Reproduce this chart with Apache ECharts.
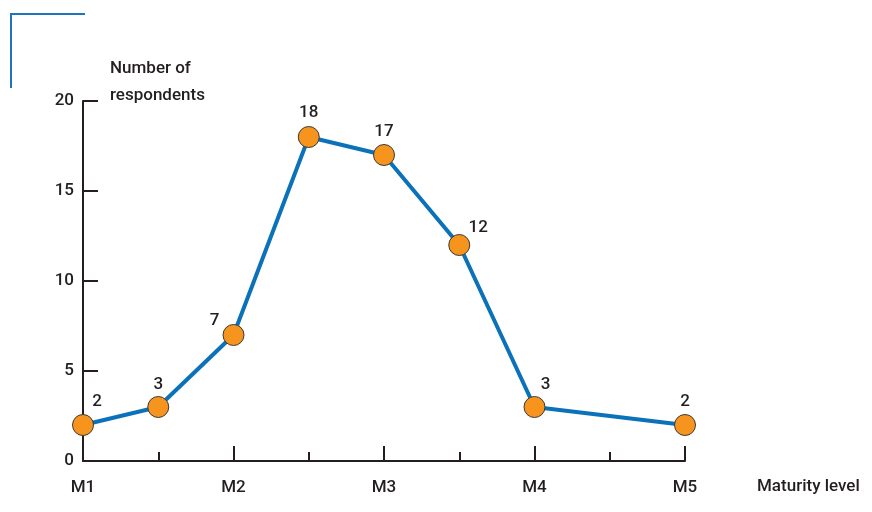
<!DOCTYPE html>
<html>
<head>
<meta charset="utf-8">
<script src="https://cdn.jsdelivr.net/npm/echarts@6/dist/echarts.min.js"></script>
<style>
  html, body { margin: 0; padding: 0; background: #ffffff; }
  #chart { width: 872px; height: 512px; }
</style>
</head>
<body>
<div id="chart"></div>
<script>
// Maturity levels on the x axis (1 = M1 ... 5 = M5); half steps sit between levels
const levelNames = ['M1', 'M2', 'M3', 'M4', 'M5'];
const levelPositions = [1, 1.5, 2, 2.5, 3, 3.5, 4, 5];
const respondents = [2, 3, 7, 18, 17, 12, 3, 2];
const yTicks = [0, 5, 10, 15, 20];

// Where each value label sits relative to its marker centre
const labelOffsets = [[14, -23], [0, -22], [-19, -14], [0, -24], [0, -23], [19, -17], [11, -22], [0, -23]];

const FONT = "Roboto, 'Liberation Sans', sans-serif";
const WEIGHT = 500;
const INK = '#231f20';
const BLUE = '#0b72b9';
const ORANGE = '#f7941d';

const seriesData = levelPositions.map((x, i) => ({
  value: [x, respondents[i]],
  label: { offset: labelOffsets[i] }
}));

const chart = echarts.init(document.getElementById('chart'), null, { renderer: 'canvas' });

chart.setOption({
  animation: false,
  backgroundColor: '#ffffff',
  textStyle: { fontFamily: FONT, fontWeight: WEIGHT },
  grid: { left: 83, right: 187, top: 101, bottom: 51, containLabel: false },
  graphic: [
    {
      type: 'polyline',
      shape: { points: [[85, 14], [11, 14], [11, 88]] },
      style: { stroke: '#1f74c2', lineWidth: 2, fill: null },
      silent: true
    }
  ],
  xAxis: {
    type: 'value',
    min: 1,
    max: 5,
    interval: 1,
    name: 'Maturity level',
    nameLocation: 'end',
    nameGap: 72,
    nameTextStyle: {
      fontFamily: FONT, fontWeight: WEIGHT, fontSize: 17, color: INK,
      align: 'left', verticalAlign: 'top', padding: [17, 0, 0, 0]
    },
    axisLine: { show: true, lineStyle: { color: INK, width: 2 } },
    axisTick: { show: true, inside: true, length: 15, lineStyle: { color: INK, width: 2 } },
    minorTick: { show: true, splitNumber: 2, length: 9, lineStyle: { color: INK, width: 2 } },
    splitLine: { show: false },
    minorSplitLine: { show: false },
    axisLabel: {
      margin: 18,
      fontFamily: FONT, fontWeight: WEIGHT, fontSize: 17, color: INK,
      formatter: v => levelNames[Math.round(v) - 1] || ''
    }
  },
  yAxis: {
    type: 'value',
    min: yTicks[0],
    max: yTicks[yTicks.length - 1],
    interval: 5,
    name: 'Number of\nrespondents',
    nameLocation: 'end',
    nameGap: 19,
    nameTextStyle: {
      fontFamily: FONT, fontWeight: WEIGHT, fontSize: 17, color: INK, lineHeight: 27,
      align: 'left', verticalAlign: 'middle', padding: [0, 0, 0, 27]
    },
    axisLine: { show: true, lineStyle: { color: INK, width: 2 } },
    axisTick: { show: true, inside: true, length: 15, lineStyle: { color: INK, width: 2 } },
    splitLine: { show: false },
    axisLabel: { margin: 9, fontFamily: FONT, fontWeight: WEIGHT, fontSize: 17, color: INK }
  },
  series: [
    {
      type: 'line',
      data: seriesData,
      symbol: 'circle',
      symbolSize: 21,
      lineStyle: { color: BLUE, width: 4 },
      itemStyle: { color: ORANGE, borderColor: '#3a3a3a', borderWidth: 1 },
      label: {
        show: true,
        position: 'inside',
        fontFamily: FONT,
        fontWeight: WEIGHT,
        fontSize: 17,
        color: INK,
        formatter: p => String(p.value[1])
      },
      z: 3
    }
  ]
});
</script>
</body>
</html>
